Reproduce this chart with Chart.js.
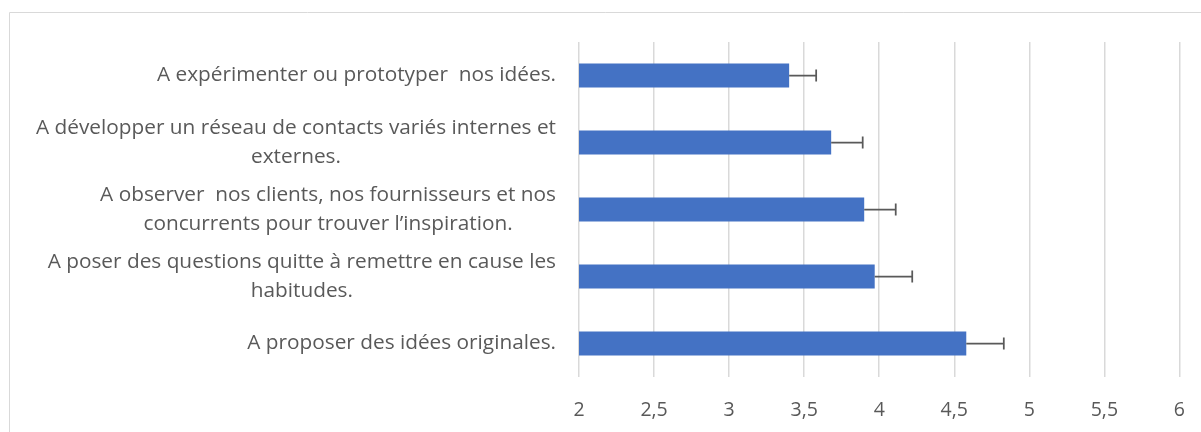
<!DOCTYPE html>
<html>
<head>
<meta charset="utf-8">
<script src="https://cdn.jsdelivr.net/npm/chart.js@4"></script>
<style>
  html, body { margin: 0; padding: 0; background: #fff; }
  #wrap { width: 1201px; height: 432px; }
</style>
</head>
<body>
<div id="wrap"><canvas id="creativityChart" width="1201" height="432"></canvas></div>
<script>
const categories = [
  ["A expérimenter ou prototyper  nos idées."],
  ["A développer un réseau de contacts variés internes et", "externes."],
  ["A observer  nos clients, nos fournisseurs et nos", "concurrents pour trouver l’inspiration."],
  ["A poser des questions quitte à remettre en cause les", "habitudes."],
  ["A proposer des idées originales."]
];
const means = [3.40, 3.68, 3.90, 3.97, 4.58];
const errors = [0.18, 0.21, 0.21, 0.25, 0.25];
const xTicks = [2, 2.5, 3, 3.5, 4, 4.5, 5, 5.5, 6];

const FONT = "'Open Sans', sans-serif";
const TEXT = "#595959";
const GRID = "#d9d9d9";

// thin frame around the chart
const frame = {
  id: "frame",
  beforeDraw(chart) {
    const { ctx, width, height } = chart;
    ctx.save();
    ctx.strokeStyle = GRID;
    ctx.lineWidth = 1;
    ctx.beginPath();
    ctx.moveTo(9.5, height);
    ctx.lineTo(9.5, 12.5);
    ctx.lineTo(width, 12.5);
    ctx.stroke();
    ctx.restore();
  }
};

// category labels: block right-aligned, lines centred inside the block
const categoryLabels = {
  id: "categoryLabels",
  afterDraw(chart) {
    const { ctx } = chart;
    const yScale = chart.scales.y;
    const right = chart.chartArea.left - 23;
    const lineH = 29;
    ctx.save();
    ctx.font = "20.8px " + FONT;
    ctx.fillStyle = TEXT;
    ctx.textAlign = "center";
    ctx.textBaseline = "middle";
    categories.forEach((lines, i) => {
      const w = Math.max(...lines.map(l => ctx.measureText(l).width));
      const cx = right - w / 2;
      const cy = yScale.getPixelForValue(i);
      const top = cy - (lines.length - 1) * lineH / 2;
      lines.forEach((l, j) => ctx.fillText(l, cx, top + j * lineH));
    });
    ctx.restore();
  }
};

// plus-only error bars with an end cap
const errorBars = {
  id: "errorBars",
  afterDatasetsDraw(chart) {
    const { ctx } = chart;
    const xScale = chart.scales.x;
    const meta = chart.getDatasetMeta(0);
    ctx.save();
    ctx.strokeStyle = "#595959";
    ctx.lineWidth = 1.75;
    meta.data.forEach((bar, i) => {
      const x0 = bar.x;
      const x1 = xScale.getPixelForValue(means[i] + errors[i]);
      const y = bar.y;
      ctx.beginPath();
      ctx.moveTo(x0, y);
      ctx.lineTo(x1, y);
      ctx.moveTo(x1, y - 6);
      ctx.lineTo(x1, y + 6);
      ctx.stroke();
    });
    ctx.restore();
  }
};

new Chart(document.getElementById("creativityChart").getContext("2d"), {
  type: "bar",
  data: {
    labels: categories,
    datasets: [{
      data: means,
      backgroundColor: "#4472c4",
      borderWidth: 0,
      categoryPercentage: 1,
      barPercentage: 0.36
    }]
  },
  options: {
    indexAxis: "y",
    responsive: false,
    animation: false,
    layout: { padding: { top: 42, right: 10, bottom: 0, left: 0 } },
    plugins: {
      legend: { display: false },
      tooltip: { enabled: false }
    },
    scales: {
      x: {
        min: 2,
        max: 6,
        afterBuildTicks(scale) {
          scale.ticks = xTicks.map(v => ({ value: v }));
        },
        afterFit(scale) { scale.height = 55; },
        grid: { color: GRID, lineWidth: 1.5, drawTicks: true, tickLength: 6, tickColor: "rgba(0,0,0,0)" },
        border: { display: false },
        ticks: {
          padding: 16,
          color: TEXT,
          font: { family: FONT, size: 19.5 },
          callback: v => String(v).replace(".", ",")
        }
      },
      y: {
        afterFit(scale) { scale.width = 579; },
        grid: { display: false },
        border: { display: false },
        ticks: { display: false }
      }
    }
  },
  plugins: [frame, categoryLabels, errorBars]
});
</script>
</body>
</html>
